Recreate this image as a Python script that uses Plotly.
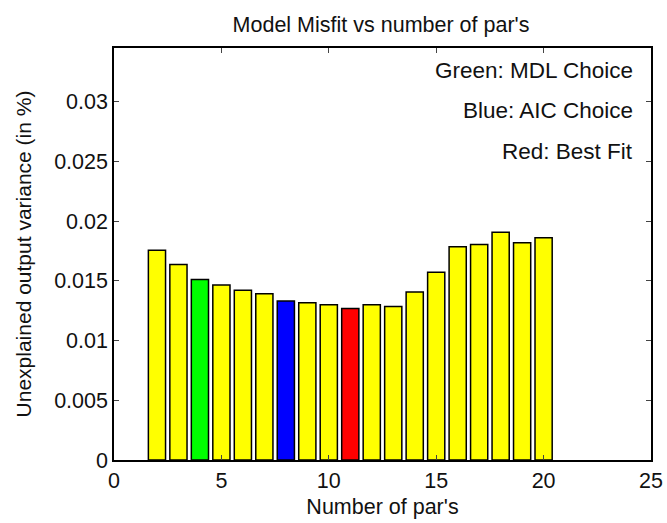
import plotly.graph_objects as go

npars = list(range(2, 21))
misfit = [0.01757, 0.01638, 0.01511, 0.01466, 0.01421, 0.01393, 0.01331, 0.01316,
          0.01299, 0.01268, 0.01299, 0.01285, 0.01407, 0.01573, 0.01785, 0.01805,
          0.01907, 0.01819, 0.01862]
mdl_choice = 4
aic_choice = 8
best_fit = 11
x_ticks = [0, 5, 10, 15, 20, 25]
y_ticks = [0, 0.005, 0.01, 0.015, 0.02, 0.025, 0.03]
y_ticklabels = ["0", "0.005", "0.01", "0.015", "0.02", "0.025", "0.03"]
notes = ["Green: MDL Choice", "Blue: AIC Choice", "Red: Best Fit"]

colors = []
for n in npars:
    if n == mdl_choice:
        colors.append("#00ff00")
    elif n == aic_choice:
        colors.append("#0000ff")
    elif n == best_fit:
        colors.append("#ff0000")
    else:
        colors.append("#ffff00")

font = "Liberation Sans, Arial, sans-serif"
fig = go.Figure(go.Bar(x=npars, y=misfit, width=0.8,
                       marker=dict(color=colors, line=dict(color="black", width=1.5))))

L, R, T, B = 114, 16, 48, 63
W, H = 667, 523
pw, ph = W - L - R, H - T - B

fig.update_layout(
    width=W, height=H,
    margin=dict(l=L, r=R, t=T, b=B),
    paper_bgcolor="white", plot_bgcolor="white",
    font=dict(family=font, size=21, color="#111111"),
    showlegend=False,
    title=dict(text="Model Misfit vs number of par's", x=381 / W, xanchor="center",
               y=1 - 24 / H, yanchor="middle", font=dict(size=21.5, family=font)),
)
fig.update_xaxes(range=[0, 25], tickvals=x_ticks, ticks="inside", ticklen=5,
                 showline=True, linecolor="black", linewidth=1.5, mirror="allticks",
                 showgrid=False, zeroline=False, tickfont=dict(size=21.5), automargin=False,
                 title=dict(text="Number of par's", font=dict(size=21.5), standoff=7))
fig.update_yaxes(range=[0, 0.0345], tickvals=y_ticks, ticktext=y_ticklabels,
                 ticks="inside", ticklen=5,
                 showline=True, linecolor="black", linewidth=1.5, mirror="allticks",
                 showgrid=False, zeroline=False, tickfont=dict(size=21.5), automargin=False,
                 title=dict(text="Unexplained output variance (in %)", font=dict(size=21), standoff=17))

for txt, ypix in zip(notes, [71, 110, 151]):
    fig.add_annotation(text=txt, xref="paper", yref="paper", x=(635 - L) / pw,
                       y=(H - B - ypix) / ph, xanchor="right", yanchor="middle",
                       showarrow=False, font=dict(size=22.5, family=font))

fig.write_html("out.html")
